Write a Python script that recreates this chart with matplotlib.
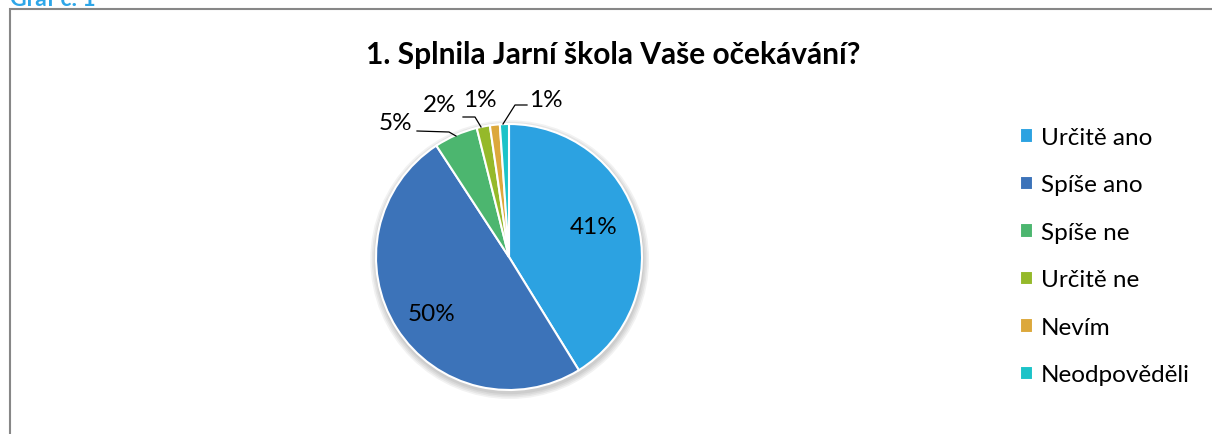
import numpy as np
import matplotlib.pyplot as plt
from matplotlib.patches import Rectangle, Circle

plt.rcParams['font.family'] = ['Lato', 'DejaVu Sans']

# Data
kategorie = ['Určitě ano', 'Spíše ano', 'Spíše ne', 'Určitě ne', 'Nevím', 'Neodpověděli']
podil = [41.2, 49.6, 5.3, 1.6, 1.2, 1.1]
barvy = ['#2CA2E1', '#3C73B9', '#4CB66F', '#95B92A', '#DCA83B', '#1CC3C8']

W, H = 1212, 435
fig = plt.figure(figsize=(W / 100, H / 100), dpi=100)

# Frame of the chart area and the cut-off caption
fig.patches.append(Rectangle((10 / W, -0.2), 1.2, 1.2 - 10 / H, transform=fig.transFigure,
                             fill=False, edgecolor='#878787', linewidth=1.5))
fig.text(10 / W, 1 - 6 / H, 'Graf č. 1', color='#2EA6E8', fontsize=16.5, fontweight='bold',
         va='baseline', ha='left')

fig.text(613 / W, 1 - 55 / H, '1. Splnila Jarní škola Vaše očekávání?', fontsize=21.5,
         fontweight='bold', ha='center', va='center')

# Pie axes: centre (509, 258) px, radius 133 px -> limits +-2
cx, cy, R = 509, 258, 133
ax = fig.add_axes([(cx - 2 * R) / W, (H - cy - 2 * R) / H, 4 * R / W, 4 * R / H])

# soft shadow
for i in range(4):
    ax.add_patch(Circle((0.005, -0.02), 1.0 + 0.012 * (i + 1), color='black', alpha=0.05,
                        lw=0, zorder=0))

wedges, _ = ax.pie(podil, colors=barvy, startangle=90, counterclock=False, radius=1,
                   wedgeprops=dict(edgecolor='white', linewidth=1.5, zorder=2))
ax.set_xlim(-2, 2)
ax.set_ylim(-2, 2)
ax.set_aspect('equal')
ax.axis('off')

def px(x, y):
    return ((x - cx) / R, (cy - y) / R)

# labels: inner ones inside the slice, small ones outside with leader lines
popisky = ['%.0f%%' % v for v in podil]
for w, lab, r in zip(wedges[:2], popisky[:2], [0.68, 0.72]):
    ang = np.deg2rad((w.theta1 + w.theta2) / 2 + 4)
    ax.text(r * np.cos(ang), r * np.sin(ang), lab, fontsize=17.5, ha='center', va='center')

vnejsi = [  # text position, leader points (px)
    ((395, 123), [(417, 132), (449, 133), (456, 137)]),
    ((440, 105), [(463, 118), (475, 118), (481, 128)]),
    ((480, 100), None),
    ((546, 100), [(527, 106), (515, 106), (503, 125)]),
]
for lab, (tp, lead) in zip(popisky[2:], vnejsi):
    ax.text(*px(*tp), lab, fontsize=17.5, ha='center', va='center')
    if lead:
        pts = np.array([px(*p) for p in lead])
        ax.plot(pts[:, 0], pts[:, 1], color='black', lw=0.9)

leg = fig.legend(wedges, kategorie, loc='upper left', bbox_to_anchor=(1020 / W, 1 - 128 / H),
                 frameon=False, fontsize=17.5, handlelength=0.53, handleheight=0.53,
                 handletextpad=0.33, labelspacing=1.09, borderpad=0, borderaxespad=0)

fig.savefig('out.png', dpi=100)
